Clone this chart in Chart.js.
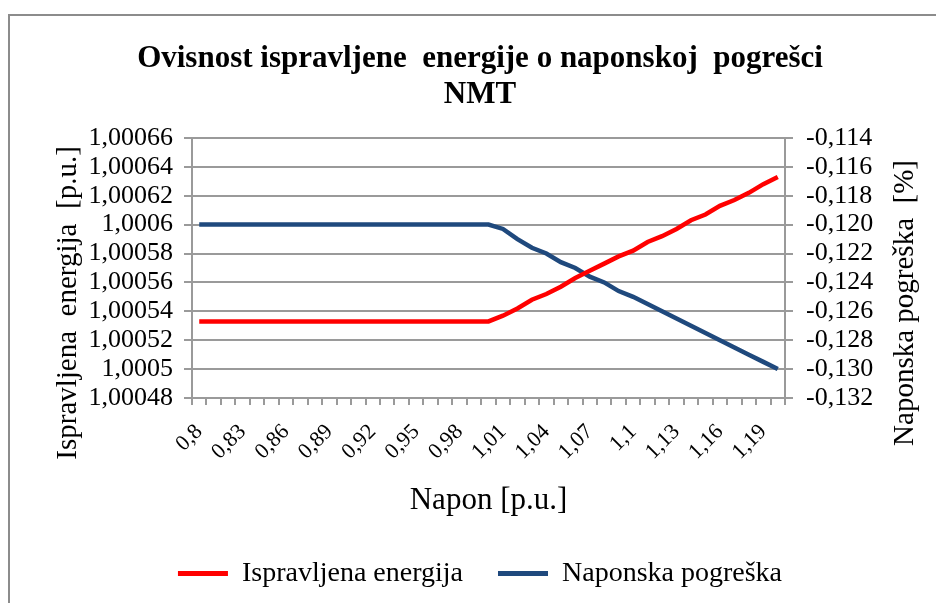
<!DOCTYPE html>
<html>
<head>
<title>Ovisnost ispravljene energije o naponskoj pogrešci NMT</title>
<style>
  html, body { margin: 0; padding: 0; background: #fff; overflow: hidden; }
  #okvir {
    position: absolute; left: 8px; top: 14px;
    width: 950px; height: 600px;
    border-left: 2px solid #8c8c8c; border-top: 2px solid #8c8c8c;
  }
</style>
</head>
<body>
<div id="okvir">
  <canvas id="grafNMT"></canvas>
</div>
<script src="https://cdn.jsdelivr.net/npm/chart.js@4.4.1/dist/chart.umd.min.js"></script>
<script>
// napon 0,80 ... 1,20 p.u.
const napon = ["0,8","0,81","0,82","0,83","0,84","0,85","0,86","0,87","0,88","0,89",
  "0,9","0,91","0,92","0,93","0,94","0,95","0,96","0,97","0,98","0,99",
  "1","1,01","1,02","1,03","1,04","1,05","1,06","1,07","1,08","1,09",
  "1,1","1,11","1,12","1,13","1,14","1,15","1,16","1,17","1,18","1,19","1,2"];

// ispravljena energija [p.u.]
const energija = [1.000533,1.000533,1.000533,1.000533,1.000533,1.000533,1.000533,1.000533,1.000533,1.000533,
  1.000533,1.000533,1.000533,1.000533,1.000533,1.000533,1.000533,1.000533,1.000533,1.000533,
  1.000533,1.000537,1.000542,1.000548,1.000552,1.000557,1.000563,1.000568,1.000573,1.000578,
  1.000582,1.000588,1.000592,1.000597,1.000603,1.000607,1.000613,1.000617,1.000622,1.000628,1.000633];

// naponska pogreška [%]
const pogreska = [-0.120,-0.120,-0.120,-0.120,-0.120,-0.120,-0.120,-0.120,-0.120,-0.120,
  -0.120,-0.120,-0.120,-0.120,-0.120,-0.120,-0.120,-0.120,-0.120,-0.120,
  -0.120,-0.1203,-0.1210,-0.1216,-0.1220,-0.1226,-0.1230,-0.1236,-0.1240,-0.1246,
  -0.1250,-0.1255,-0.1260,-0.1265,-0.1270,-0.1275,-0.1280,-0.1285,-0.1290,-0.1295,-0.1300];

const naslovLijevo = 'Ispravljena  energija  [p.u.]';
const naslovDesno = 'Naponska pogreška  [%]';

const serif = "'Liberation Serif', 'Times New Roman', serif";
const mreza = '#9a9a9a';

// okomiti naslovi osi, malo spušteni ispod sredine grafa
const nasloviOsi = {
  id: 'nasloviOsi',
  afterDraw(chart) {
    const c = chart.ctx, a = chart.chartArea;
    const sredina = (a.top + a.bottom) / 2 + 35;
    [[58, naslovLijevo], [895, naslovDesno]].forEach(function(n) {
      c.save();
      c.fillStyle = '#000';
      c.font = '29px ' + serif;
      c.textAlign = 'center';
      c.textBaseline = 'middle';
      c.translate(n[0], sredina);
      c.rotate(-Math.PI / 2);
      c.fillText(n[1], 0, 0);
      c.restore();
    });
  }
};

new Chart(document.getElementById('grafNMT'), {
  type: 'line',
  data: {
    labels: napon,
    datasets: [{
      label: 'Ispravljena energija',
      data: energija,
      borderColor: '#ff0000',
      backgroundColor: '#ff0000',
      borderWidth: 4.5,
      pointRadius: 0,
      tension: 0,
      yAxisID: 'y'
    }, {
      label: 'Naponska pogreška',
      data: pogreska,
      borderColor: '#1f497d',
      backgroundColor: '#1f497d',
      borderWidth: 4.5,
      pointRadius: 0,
      tension: 0,
      yAxisID: 'y1'
    }]
  },
  plugins: [nasloviOsi],
  options: {
    responsive: true,
    maintainAspectRatio: false,
    animation: false,
    layout: { padding: { left: 40, right: 50, top: 7, bottom: 18.5 } },
    plugins: {
      title: {
        display: true,
        text: ['Ovisnost ispravljene  energije o naponskoj  pogrešci', 'NMT'],
        color: '#000',
        font: { family: serif, size: 31, weight: 'bold', lineHeight: 1.16 },
        padding: { top: 18, bottom: 25 }
      },
      legend: {
        position: 'bottom',
        labels: {
          color: '#000',
          font: { family: serif, size: 28 },
          boxWidth: 50,
          boxHeight: 5,
          padding: 35,
          generateLabels: function(chart) {
            return Chart.defaults.plugins.legend.labels.generateLabels(chart).map(function(l) {
              l.lineWidth = 0;
              return l;
            });
          }
        }
      },
      tooltip: { enabled: false }
    },
    scales: {
      x: {
        offset: true,
        afterFit: function(s) { s.height = 126.5; },
        grid: { display: true, drawOnChartArea: false, offset: true, color: mreza, lineWidth: 2, tickLength: 7 },
        border: { color: mreza, width: 2 },
        ticks: {
          autoSkip: false,
          minRotation: 45,
          maxRotation: 45,
          padding: 14,
          color: '#000',
          font: { family: serif, size: 22 },
          callback: function(v, i) { return i % 3 === 0 ? napon[i] : ''; }
        },
        title: {
          display: true,
          text: 'Napon [p.u.]',
          color: '#000',
          font: { family: serif, size: 31 },
          padding: { top: 0, bottom: 5 }
        }
      },
      y: {
        position: 'left',
        min: 1.00048,
        max: 1.00066,
        afterFit: function(s) { s.width = 142; },
        grid: { color: mreza, lineWidth: 2, tickLength: 8 },
        border: { color: mreza, width: 2 },
        ticks: {
          autoSkip: false,
          stepSize: 0.00002,
          color: '#000',
          font: { family: serif, size: 26 },
          padding: 11,
          callback: function(v) { return String(Number(v.toFixed(5))).replace('.', ','); }
        }
      },
      y1: {
        position: 'right',
        min: -0.132,
        max: -0.114,
        afterFit: function(s) { s.width = 125; },
        grid: { drawOnChartArea: false, color: mreza, lineWidth: 2, tickLength: 8 },
        border: { color: mreza, width: 2 },
        ticks: {
          autoSkip: false,
          stepSize: 0.002,
          color: '#000',
          font: { family: serif, size: 26 },
          padding: 13,
          callback: function(v) { return v.toFixed(3).replace('.', ','); }
        }
      }
    }
  }
});
</script>
</body>
</html>
